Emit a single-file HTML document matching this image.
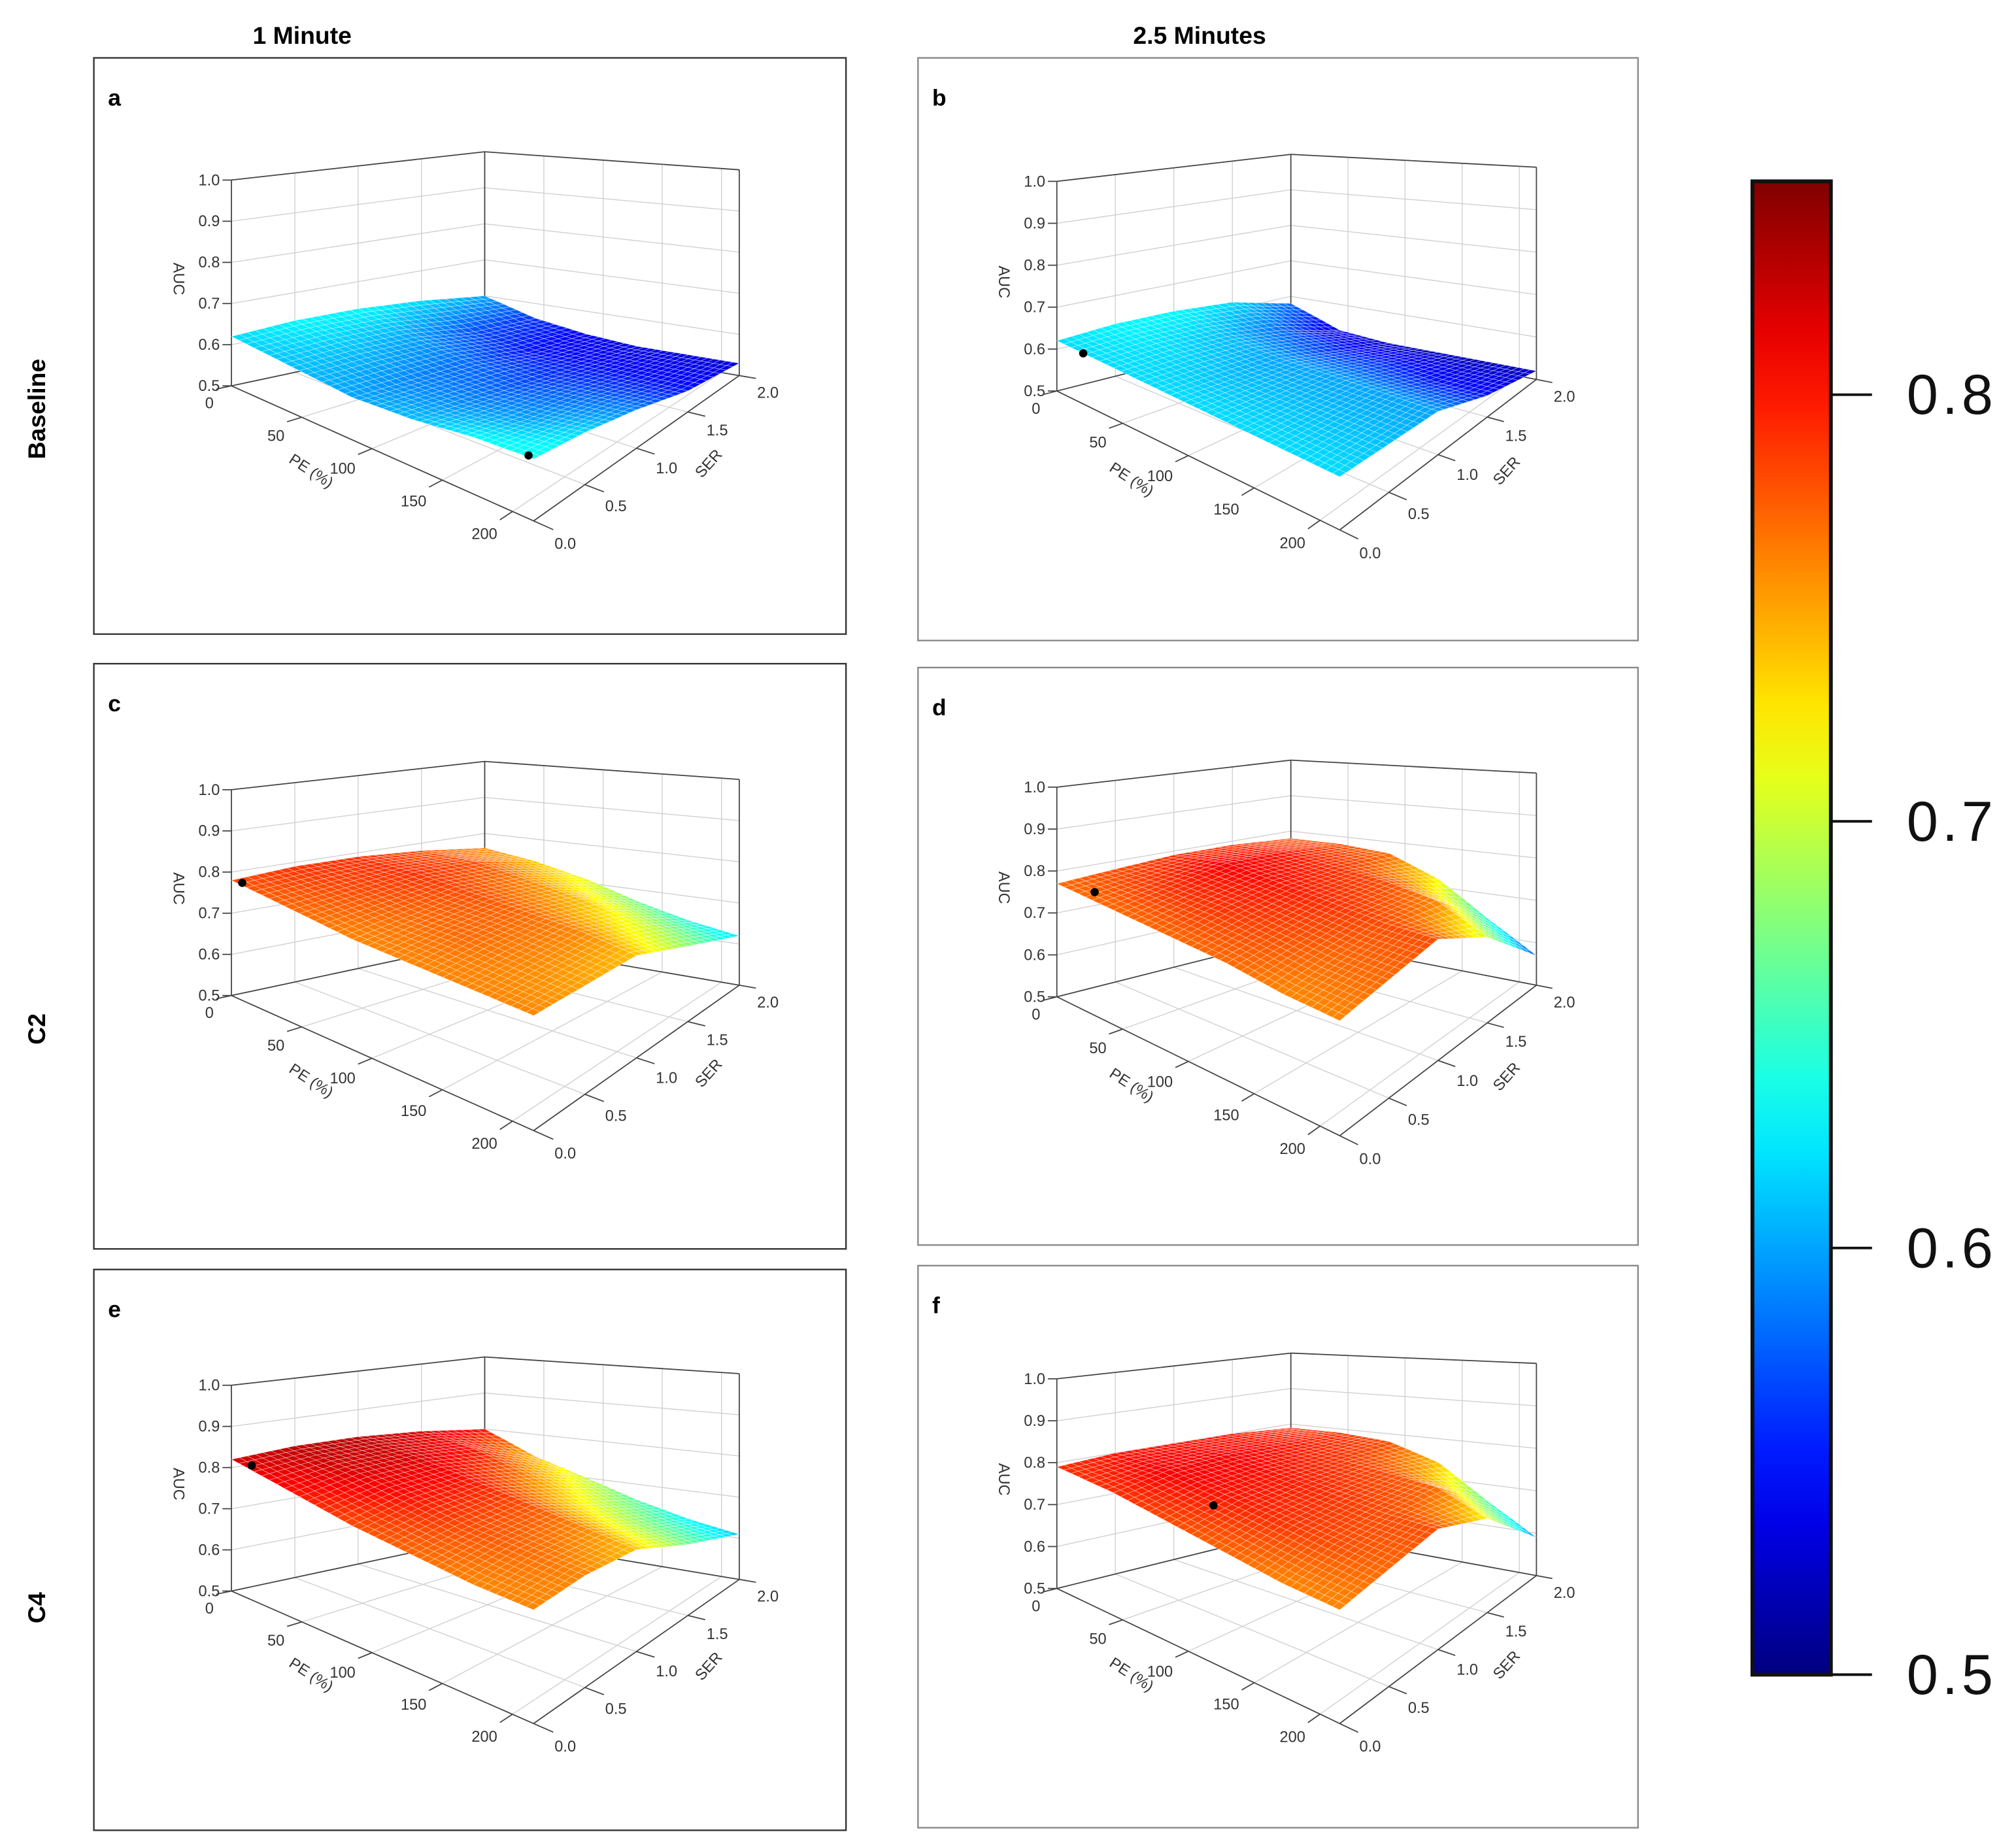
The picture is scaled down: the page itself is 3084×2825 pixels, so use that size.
<!DOCTYPE html>
<html><head><meta charset="utf-8"><style>
html,body{margin:0;padding:0;background:#fff}
svg{display:block}
text{font-family:"Liberation Sans",sans-serif}
</style></head><body>
<svg id="fig" xmlns="http://www.w3.org/2000/svg" width="3084" height="2825" viewBox="0 0 1568 1436" preserveAspectRatio="none">
<rect x="0" y="0" width="1568" height="1436" fill="#fff"/>
<text x="235" y="34" font-size="19" font-weight="bold" text-anchor="middle">1 Minute</text>
<text x="933" y="34" font-size="19" font-weight="bold" text-anchor="middle">2.5 Minutes</text>
<text transform="translate(35,318) rotate(-90)" font-size="19" font-weight="bold" text-anchor="middle">Baseline</text>
<text transform="translate(35,800) rotate(-90)" font-size="19" font-weight="bold" text-anchor="middle">C2</text>
<text transform="translate(35,1250) rotate(-90)" font-size="19" font-weight="bold" text-anchor="middle">C4</text>
<g id="panels"></g>
<g id="cbar"></g>
</svg>
<script>
const PE_GRID=[0,43,86,129,172,215];
const SER_GRID=[0,0.5,1,1.5,2];
const PE_TICKS=[0,50,100,150,200];
const SER_TICKS=[0,0.5,1,1.5,2];
const AUC_TICKS=[0.5,0.6,0.7,0.8,0.9,1.0];
const CBAR_TICKS=[0.5,0.6,0.7,0.8];
// rows = SER, cols = PE
const auc_a=[[0.62,0.61,0.60,0.61,0.63,0.64],[0.63,0.61,0.59,0.59,0.60,0.62],[0.63,0.60,0.58,0.57,0.58,0.59],[0.62,0.57,0.55,0.55,0.55,0.55],[0.60,0.56,0.54,0.53,0.53,0.53]];
const auc_b=[[0.62,0.62,0.62,0.62,0.62,0.62],[0.63,0.62,0.61,0.61,0.61,0.61],[0.63,0.61,0.60,0.60,0.60,0.60],[0.62,0.58,0.56,0.56,0.55,0.55],[0.58,0.53,0.52,0.52,0.52,0.52]];
const auc_c=[[0.78,0.77,0.76,0.76,0.76,0.76],[0.79,0.78,0.77,0.77,0.76,0.75],[0.79,0.79,0.78,0.77,0.76,0.74],[0.78,0.78,0.76,0.74,0.71,0.68],[0.76,0.74,0.71,0.67,0.64,0.62]];
const auc_d=[[0.77,0.77,0.77,0.77,0.76,0.76],[0.78,0.79,0.79,0.78,0.77,0.77],[0.79,0.81,0.80,0.79,0.78,0.78],[0.79,0.80,0.79,0.78,0.76,0.70],[0.78,0.78,0.77,0.72,0.64,0.57]];
const auc_e=[[0.82,0.80,0.78,0.77,0.76,0.76],[0.83,0.82,0.80,0.78,0.77,0.76],[0.83,0.82,0.80,0.78,0.76,0.74],[0.82,0.80,0.76,0.72,0.69,0.67],[0.80,0.74,0.70,0.66,0.63,0.61]];
const auc_f=[[0.79,0.79,0.78,0.77,0.76,0.76],[0.80,0.81,0.80,0.79,0.78,0.77],[0.80,0.81,0.80,0.79,0.78,0.78],[0.80,0.80,0.79,0.78,0.77,0.72],[0.79,0.79,0.78,0.74,0.66,0.59]];
const dot_a=[210,0.02], dot_b=[20,0.0], dot_c=[5,0.03], dot_d=[20,0.1], dot_e=[10,0.05], dot_f=[90,0.35];

const NS="http://www.w3.org/2000/svg";
const PEMAX=215, SERMAX=2, CMIN=0.5, CMAX=0.85;
function jet(v){let t=(v-CMIN)/(CMAX-CMIN);t=Math.max(0,Math.min(1,t));
 const c=x=>Math.round(255*Math.max(0,Math.min(1,x)));
 return `rgb(${c(1.5-Math.abs(4*t-3))},${c(1.5-Math.abs(4*t-2))},${c(1.5-Math.abs(4*t-1))})`;}
function mk(tag,attrs,parent){const e=document.createElementNS(NS,tag);for(const k in attrs)e.setAttribute(k,attrs[k]);parent.appendChild(e);return e;}
function sample(data,pe,ser){
 let fi=pe/PEMAX*(PE_GRID.length-1), fj=ser/SERMAX*(SER_GRID.length-1);
 let i=Math.min(Math.floor(fi),PE_GRID.length-2), j=Math.min(Math.floor(fj),SER_GRID.length-2);
 let a=fi-i,b=fj-j;
 return data[j][i]*(1-a)*(1-b)+data[j][i+1]*a*(1-b)+data[j+1][i]*(1-a)*b+data[j+1][i+1]*a*b;}

const panels=[
 {id:'a',data:auc_a,dot:dot_a,box:[73,45,585,448],stroke:'#333',L:[180,300,160],F:[415,405,172],R:[575,292,160],B:[377,258,140]},
 {id:'b',data:auc_b,dot:dot_b,box:[714,45,560,453],stroke:'#888',L:[822,304,163],F:[1042,412,172],R:[1195,295,165],B:[1004,258,138]},
 {id:'c',data:auc_c,dot:dot_c,box:[73,516,585,455],stroke:'#333',L:[180,774,160],F:[415,879,172],R:[575,766,160],B:[377,732,140]},
 {id:'d',data:auc_d,dot:dot_d,box:[714,519,560,449],stroke:'#888',L:[822,775,163],F:[1042,883,172],R:[1195,766,165],B:[1004,729,138]},
 {id:'e',data:auc_e,dot:dot_e,box:[73,987,585,436],stroke:'#333',L:[180,1237,160],F:[415,1340,170],R:[575,1228,160],B:[377,1195,140]},
 {id:'f',data:auc_f,dot:dot_f,box:[714,984,560,437],stroke:'#888',L:[822,1235,163],F:[1042,1340,170],R:[1195,1225,165],B:[1004,1190,138]}
];
const root=document.getElementById('panels');
panels.forEach(p=>{
 const g=mk('g',{},root);
 
 
 const bx=mk('rect',{x:p.box[0],y:p.box[1],width:p.box[2],height:p.box[3],fill:'#fff',stroke:p.stroke,'stroke-width':1.2},g);
 
 
 const lt=mk('text',{x:p.box[0]+11,y:p.box[1]+37,'font-size':18,'font-weight':'bold'},g);
 lt.textContent=p.id;
 
 
 const P=(pe,ser,z)=>{const u=pe/PEMAX,v=ser/SERMAX;
  const w=[(1-u)*(1-v),u*(1-v),u*v,(1-u)*v],C=[p.L,p.F,p.R,p.B];
  let x=0,y=0,h=0;for(let k=0;k<4;k++){x+=w[k]*C[k][0];y+=w[k]*C[k][1];h+=w[k]*C[k][2];}
  return [x,y-h*(z-0.5)/0.5];};
 const line=(a,b,col,sw,name)=>{const l=mk('line',{x1:a[0].toFixed(1),y1:a[1].toFixed(1),x2:b[0].toFixed(1),y2:b[1].toFixed(1),stroke:col,'stroke-width':sw},g);
  
  return l;};
 const grid='#d0d0d0';
 PE_TICKS.forEach(t=>line(P(t,0,0.5),P(t,2,0.5),grid,0.7,'floor-gridline'));
 SER_TICKS.forEach(t=>line(P(0,t,0.5),P(PEMAX,t,0.5),grid,0.7,'floor-gridline'));
 AUC_TICKS.forEach(z=>{line(P(0,0,z),P(0,2,z),grid,0.7,'wall-gridline');line(P(0,2,z),P(PEMAX,2,z),grid,0.7,'wall-gridline');});
 SER_TICKS.forEach(t=>line(P(0,t,0.5),P(0,t,1),grid,0.7,'wall-gridline'));
 PE_TICKS.forEach(t=>line(P(t,2,0.5),P(t,2,1),grid,0.7,'wall-gridline'));
 const ec='#444';
 line(P(0,0,0.5),P(0,0,1),ec,0.9,'z-axis-line');
 line(P(0,2,0.5),P(0,2,1),ec,0.9,'box-edge');
 line(P(PEMAX,2,0.5),P(PEMAX,2,1),ec,0.9,'box-edge');
 line(P(0,0,1),P(0,2,1),ec,0.9,'box-edge');
 line(P(0,2,1),P(PEMAX,2,1),ec,0.9,'box-edge');
 line(P(0,0,0.5),P(0,2,0.5),ec,0.9,'box-edge');
 line(P(0,2,0.5),P(PEMAX,2,0.5),ec,0.9,'box-edge');
 line(P(0,0,0.5),P(PEMAX,0,0.5),ec,0.9,'pe-axis-line');
 line(P(PEMAX,0,0.5),P(PEMAX,2,0.5),ec,0.9,'ser-axis-line');
 const NP=40,NSr=32,pts=[];
 for(let j=0;j<=NSr;j++){pts.push([]);for(let i=0;i<=NP;i++){const pe=i/NP*PEMAX,ser=j/NSr*SERMAX,z=sample(p.data,pe,ser);pts[j].push({xy:P(pe,ser,z),z});}}
 const quads=[];
 for(let j=0;j<NSr;j++)for(let i=0;i<NP;i++)quads.push([i,j,i/NP-j/NSr]);
 quads.sort((a,b)=>a[2]-b[2]);
 const sg=mk('g',{},g);
 
 
 quads.forEach(([i,j])=>{const c=[pts[j][i],pts[j][i+1],pts[j+1][i+1],pts[j+1][i]];
  const z=(c[0].z+c[1].z+c[2].z+c[3].z)/4;
  const poly=mk('polygon',{points:c.map(q=>q.xy[0].toFixed(1)+','+q.xy[1].toFixed(1)).join(' '),fill:jet(z),stroke:'rgba(255,255,255,0.45)','stroke-width':0.45,'stroke-linejoin':'round'},sg);
  
  });
 const dz=sample(p.data,p.dot[0],p.dot[1]);const dp=P(p.dot[0],p.dot[1],dz);
 const dc=mk('circle',{cx:dp[0].toFixed(1),cy:dp[1].toFixed(1),r:3.2,fill:'#000'},g);
 
 
 const fs=12;
 AUC_TICKS.forEach(z=>{const a=P(0,0,z);line([a[0]-7,a[1]],a,ec,0.9,'z-tick');
  const t=mk('text',{x:(a[0]-9).toFixed(1),y:(a[1]+4).toFixed(1),'font-size':fs,'text-anchor':'end',fill:'#333'},g);t.textContent=z.toFixed(1);
  
  });
 PE_TICKS.forEach(v=>{const a=P(v,0,0.5),b=P(v,-0.12,0.5);line(a,b,ec,0.9,'pe-tick');
  const t=mk('text',{x:(b[0]-2).toFixed(1),y:(b[1]+15).toFixed(1),'font-size':fs,'text-anchor':'end',fill:'#333'},g);t.textContent=String(v);
  
  });
 SER_TICKS.forEach(v=>{const a=P(PEMAX,v,0.5),b=P(PEMAX+14,v,0.5);line(a,b,ec,0.9,'ser-tick');
  const t=mk('text',{x:(b[0]+1).toFixed(1),y:(b[1]+15).toFixed(1),'font-size':fs,'text-anchor':'start',fill:'#333'},g);t.textContent=v.toFixed(1);
  
  });
 const pa=P(100,-0.55,0.5);
 const pt=mk('text',{transform:`translate(${pa[0].toFixed(1)},${pa[1].toFixed(1)}) rotate(33)`,'font-size':fs,'text-anchor':'middle',fill:'#333'},g);pt.textContent='PE (%)';
 
 
 const sa=P(PEMAX+55,1.05,0.5);
 const st=mk('text',{transform:`translate(${sa[0].toFixed(1)},${sa[1].toFixed(1)}) rotate(-48)`,'font-size':fs,'text-anchor':'middle',fill:'#333'},g);st.textContent='SER';
 
 
 const za=P(0,0,0.76);
 const zt=mk('text',{transform:`translate(${(za[0]-45).toFixed(1)},${za[1].toFixed(1)}) rotate(90)`,'font-size':fs,'text-anchor':'middle',fill:'#333'},g);zt.textContent='AUC';
 
 
});
const cb=document.getElementById('cbar');
const CB={x:1363,top:141,bot:1302,w:61};
const cy=v=>CB.bot-(v-CMIN)/(CMAX-CMIN)*(CB.bot-CB.top);
const defs=mk('defs',{},cb);
const lg=mk('linearGradient',{id:'jetg',x1:0,y1:1,x2:0,y2:0},defs);
for(let k=0;k<=20;k++){const v=CMIN+(CMAX-CMIN)*k/20;mk('stop',{offset:k/20,'stop-color':jet(v)},lg);}
const cr=mk('rect',{x:CB.x,y:CB.top,width:CB.w,height:CB.bot-CB.top,fill:'url(#jetg)',stroke:'#111','stroke-width':3},cb);


CBAR_TICKS.forEach(v=>{const y=cy(v);
 const l=mk('line',{x1:CB.x+CB.w,y1:y,x2:CB.x+CB.w+32,y2:y,stroke:'#111','stroke-width':2},cb);
 
 
 const t=mk('text',{x:1483,y:y+15,'font-size':44,'letter-spacing':3,fill:'#111'},cb);t.textContent=v.toFixed(1);
 
 });
</script>
</body></html>
